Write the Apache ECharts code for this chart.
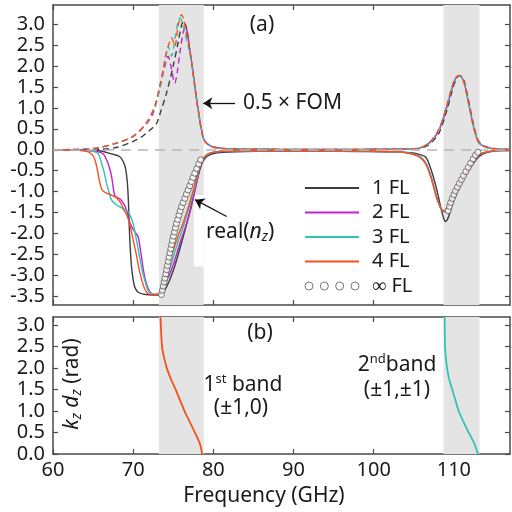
<!DOCTYPE html>
<html>
<head>
<meta charset="utf-8">
<script src="https://cdn.jsdelivr.net/npm/echarts@6/dist/echarts.min.js"></script>
<style>
  html, body { margin: 0; padding: 0; background: #fff; }
  #chart { width: 512px; height: 512px; }
</style>
</head>
<body>
<div id="chart"></div>
<script>
// tick labels
const xTicks = [60, 70, 80, 90, 100, 110]
const topYTicks = [-3.5, -3.0, -2.5, -2.0, -1.5, -1.0, -0.5, 0.0, 0.5, 1.0, 1.5, 2.0, 2.5, 3.0]
const bottomYTicks = [0.0, 0.5, 1.0, 1.5, 2.0, 2.5, 3.0]

// shaded band edges (GHz)
const bandEdges = [[73.2, 78.8], [108.7, 113.2]]

// real(n_z), first band part
const fl1Freq = [60, 64, 66, 67.3, 68.3, 68.76, 69.05, 69.26, 69.4, 69.5, 69.62, 69.8, 70.0, 70.21, 70.6, 71.25, 72.49, 73.0, 73.74, 74.2, 74.57, 75.0, 75.4, 76.23, 77.06, 77.89, 78.51, 79.0, 79.55, 80.5, 84, 90, 98, 103, 104.5, 105.5, 106.5, 107.2, 107.8, 108.4, 108.7, 108.95, 109.2, 109.5, 109.85, 110.7, 111.5, 112.3, 113.2, 114.8, 117]
const fl1Real = [0, -0.01, -0.03, -0.1, -0.16, -0.28, -0.45, -0.75, -1.2, -1.76, -2.3, -2.8, -3.1, -3.28, -3.39, -3.44, -3.46, -3.46, -3.4, -3.25, -3.1, -2.88, -2.64, -2.08, -1.48, -0.8, -0.36, -0.2, -0.12, -0.07, -0.04, -0.03, -0.04, -0.05, -0.07, -0.1, -0.18, -0.5, -0.9, -1.4, -1.62, -1.71, -1.66, -1.5, -1.28, -0.88, -0.6, -0.36, -0.15, -0.04, -0.02]

const fl2Freq = [60, 63, 65.5, 66.27, 66.68, 67.0, 67.31, 67.55, 67.72, 68.0, 68.34, 68.8, 69.17, 69.59, 70.0, 70.3, 70.63, 71.04, 71.35, 71.66, 72.0, 72.49, 73.0, 73.74, 74.1, 74.57, 75.2, 75.82, 76.65, 77.2, 77.68, 78.0, 78.31, 78.8, 79.4, 80.3, 82, 90]
const fl2Real = [0, -0.01, -0.04, -0.1, -0.24, -0.4, -0.64, -0.95, -1.1, -1.14, -1.17, -1.28, -1.44, -1.74, -1.9, -1.98, -2.08, -2.56, -2.95, -3.2, -3.36, -3.45, -3.45, -3.32, -3.15, -2.96, -2.62, -2.24, -1.76, -1.4, -1.0, -0.7, -0.42, -0.2, -0.1, -0.05, -0.03, -0.02]

const fl3Freq = [60, 63, 65.0, 65.65, 66.06, 66.4, 66.68, 67.0, 67.31, 67.8, 68.34, 68.9, 69.38, 69.7, 70.0, 70.42, 70.75, 71.04, 71.45, 71.87, 72.3, 72.7, 73.3, 73.95, 74.5, 74.99, 75.6, 76.23, 76.85, 77.48, 78.0, 78.31, 78.8, 79.4, 80.3, 82, 90]
const fl3Real = [0, -0.01, -0.04, -0.1, -0.32, -0.55, -0.8, -1.02, -1.2, -1.3, -1.36, -1.42, -1.48, -1.6, -1.76, -2.16, -2.5, -2.8, -3.12, -3.36, -3.43, -3.45, -3.42, -3.2, -2.88, -2.56, -2.2, -1.84, -1.45, -1.04, -0.65, -0.38, -0.2, -0.1, -0.05, -0.03, -0.02]

const fl4Freq = [60, 63, 64.2, 64.8, 65.2, 65.5, 65.8, 66.1, 66.6, 67.3, 67.9, 68.4, 68.8, 69.2, 69.6, 70.0, 70.4, 70.8, 71.3, 71.7, 72.3, 72.9, 73.4, 73.8, 74.3, 75.0, 75.6, 76.2, 76.9, 77.5, 78.0, 78.4, 78.8, 79.4, 80.3, 82, 90]
const fl4Real = [0, -0.01, -0.04, -0.1, -0.22, -0.45, -0.75, -0.95, -1.03, -1.08, -1.14, -1.25, -1.42, -1.55, -1.8, -2.15, -2.5, -2.9, -3.25, -3.4, -3.45, -3.45, -3.38, -3.12, -2.8, -2.4, -2.05, -1.76, -1.35, -0.96, -0.6, -0.34, -0.18, -0.09, -0.05, -0.03, -0.02]

// real(n_z), second band part (2, 3, 4 FL)
const realTailFreq = [98, 103, 104.5, 105.5, 106.1, 106.6, 107.0, 107.4, 107.8, 108.2, 108.5, 108.75, 109.0, 109.25, 109.85, 110.7, 111.5, 112.3, 113.2, 114.8, 117]
const fl2RealTail = [-0.03, -0.05, -0.08, -0.14, -0.22, -0.35, -0.55, -0.8, -1.1, -1.32, -1.44, -1.48, -1.45, -1.36, -1.12, -0.8, -0.56, -0.32, -0.12, -0.03, -0.01]
const fl3RealTail = [-0.03, -0.05, -0.08, -0.14, -0.23, -0.36, -0.56, -0.82, -1.1, -1.32, -1.43, -1.47, -1.44, -1.34, -1.1, -0.78, -0.54, -0.3, -0.11, -0.03, -0.01]
const fl4RealTail = [-0.03, -0.05, -0.09, -0.15, -0.24, -0.38, -0.58, -0.84, -1.12, -1.33, -1.43, -1.46, -1.42, -1.32, -1.08, -0.77, -0.53, -0.3, -0.11, -0.03, -0.01]

// infinite FL (circles)
const infFreq = [73.53, 73.64, 73.75, 73.86, 73.96, 74.07, 74.17, 74.28, 74.38, 74.48, 74.59, 74.69, 74.8, 74.9, 75.02, 75.15, 75.27, 75.4, 75.55, 75.71, 75.86, 76.02, 76.23, 76.44, 76.64, 76.85, 77.06, 77.27, 77.47, 77.68, 77.93, 78.18, 78.43,
  109.3, 109.45, 109.6, 109.8, 110.0, 110.2, 110.45, 110.7, 110.95, 111.2, 111.5, 111.8, 112.1, 112.4, 112.7, 113.0]
const infReal = [-3.45, -3.35, -3.25, -3.15, -3.06, -2.96, -2.86, -2.76, -2.66, -2.56, -2.46, -2.36, -2.26, -2.16, -2.06, -1.96, -1.86, -1.76, -1.66, -1.56, -1.46, -1.36, -1.26, -1.16, -1.06, -0.96, -0.86, -0.76, -0.66, -0.56, -0.45, -0.34, -0.24,
  -1.45, -1.35, -1.26, -1.16, -1.07, -0.98, -0.89, -0.8, -0.71, -0.62, -0.52, -0.42, -0.32, -0.22, -0.13, -0.06]

// 0.5 x FOM (dashed)
const fom1Freq = [60, 66, 68, 70.0, 71.0, 71.67, 72.3, 72.9, 73.5, 74.16, 74.98, 75.6, 76.0, 76.25, 76.5, 76.8, 77.06, 77.4, 77.68, 78.1, 78.51, 78.93, 79.96, 82.45, 90]
const fom1 = [0, 0.01, 0.06, 0.2, 0.3, 0.4, 0.5, 0.62, 0.95, 1.35, 1.99, 2.55, 2.94, 3.06, 3.0, 2.75, 2.38, 1.95, 1.52, 0.95, 0.48, 0.21, 0.07, 0.02, 0.01]
const fom2Freq = [60, 63, 65.44, 67.93, 70.0, 71.67, 72.49, 73.3, 73.95, 74.36, 74.7, 75.19, 75.5, 75.82, 76.23, 76.5, 76.8, 77.06, 77.4, 77.68, 78.1, 78.51, 78.93, 79.96, 82.45, 90]
const fom2 = [0, 0.01, 0.04, 0.16, 0.32, 0.62, 0.87, 1.45, 1.99, 2.23, 2.0, 1.59, 1.85, 2.31, 2.79, 2.94, 2.75, 2.39, 1.95, 1.55, 0.97, 0.5, 0.21, 0.07, 0.02, 0.01]
const fom3Freq = [60, 63, 65.44, 67.93, 70.0, 71.67, 72.7, 73.3, 73.95, 74.36, 74.78, 75.19, 75.6, 75.82, 76.1, 76.44, 77.06, 77.4, 77.68, 78.1, 78.51, 78.93, 79.96, 82.45, 90]
const fom3 = [0, 0.01, 0.04, 0.16, 0.32, 0.64, 1.03, 1.45, 2.07, 2.47, 2.23, 2.63, 3.06, 3.14, 3.05, 2.79, 2.3, 1.9, 1.5, 0.95, 0.48, 0.2, 0.06, 0.02, 0.01]
const fom4Freq = [60, 63, 65.44, 67.93, 70.0, 71.67, 72.7, 73.3, 73.74, 74.0, 74.36, 74.78, 75.19, 75.6, 76.03, 76.3, 76.6, 77.06, 77.4, 77.68, 78.1, 78.51, 78.93, 79.96, 82.45, 90]
const fom4 = [0, 0.01, 0.04, 0.16, 0.32, 0.65, 1.05, 1.52, 1.91, 2.2, 2.45, 2.67, 2.47, 2.94, 3.22, 3.1, 2.8, 2.39, 1.92, 1.51, 0.95, 0.48, 0.2, 0.06, 0.02, 0.01]

const fomTailFreq = [98, 104, 105.7, 106.5, 107.36, 108.2, 109.03, 109.85, 110.27, 110.68, 111.0, 111.31, 111.93, 112.55, 113.18, 114.42, 117]
const fom1Tail = [0.01, 0.02, 0.03, 0.08, 0.2, 0.42, 0.88, 1.45, 1.68, 1.77, 1.74, 1.62, 1.08, 0.52, 0.18, 0.05, 0.01]
const fom2Tail = [0.01, 0.02, 0.04, 0.1, 0.24, 0.48, 0.95, 1.51, 1.71, 1.77, 1.72, 1.59, 1.03, 0.48, 0.16, 0.04, 0.01]
const fom3Tail = [0.01, 0.02, 0.04, 0.11, 0.26, 0.52, 1.0, 1.55, 1.73, 1.77, 1.71, 1.57, 1.01, 0.47, 0.15, 0.04, 0.01]
const fom4Tail = [0.01, 0.02, 0.04, 0.11, 0.26, 0.52, 1.0, 1.55, 1.73, 1.77, 1.71, 1.57, 1.01, 0.47, 0.15, 0.04, 0.01]

// (b) dispersion k_z d_z
const band1Freq = [73.4, 73.45, 73.6, 73.85, 74.2, 74.7, 75.3, 75.85, 76.4, 77.05, 77.7, 78.3, 78.6]
const band1Kd = [3.19, 3.0, 2.5, 2.25, 2.0, 1.75, 1.5, 1.25, 1.0, 0.75, 0.5, 0.25, 0.0]
const band2Freq = [108.85, 108.86, 108.9, 109.0, 109.15, 109.4, 109.8, 110.2, 110.6, 111.2, 111.85, 112.53, 113.0]
const band2Kd = [3.19, 3.0, 2.5, 2.25, 2.0, 1.75, 1.5, 1.25, 1.0, 0.75, 0.5, 0.25, 0.0]

const FONT = 'Noto Sans'
const INK = '#1a1a1a'
const AXIS = '#4a4a4a'
const C1 = '#3d3d3d'
const C2 = '#c81ed2'
const C3 = '#2fc4b4'
const C4 = '#f4511e'

const pairs = (xs, ys) => xs.map((x, i) => [x, ys[i]])

const chart = echarts.init(document.getElementById('chart'))

const axisLine = { show: true, onZero: false, lineStyle: { color: AXIS, width: 1.5 } }
const tick = (vals) => ({ show: true, inside: true, length: 5, customValues: vals, lineStyle: { color: AXIS, width: 1.2 } })
const label = (vals, margin) => ({
  show: true, customValues: vals, margin, fontFamily: FONT, fontSize: 20, color: INK,
  formatter: (v) => vals === xTicks ? String(v) : v.toFixed(1)
})

const xAxisBase = (grid, pos, showLabel) => ({
  gridIndex: grid, type: 'value', min: 60, max: 117, position: pos,
  axisLine, axisTick: tick(xTicks),
  axisLabel: showLabel ? label(xTicks, 6) : { show: false },
  splitLine: { show: false }
})
const yAxisBase = (grid, pos, min, max, vals, showLabel) => ({
  gridIndex: grid, type: 'value', min, max, position: pos,
  axisLine, axisTick: tick(vals),
  axisLabel: showLabel ? label(vals, 8) : { show: false },
  splitLine: { show: false }
})

const lineSeries = (name, data, color, dashed) => ({
  name, type: 'line', xAxisIndex: 0, yAxisIndex: 0, data,
  symbol: 'none', smooth: 0.3, z: dashed ? 3 : 4,
  lineStyle: { color, width: 1.4, type: dashed ? [6, 4] : 'solid' },
  itemStyle: { color }
})

const bandArea = (extra) => ({
  silent: true, label: { show: false },
  itemStyle: { color: '#e4e4e4' },
  data: bandEdges.map(b => [{ xAxis: b[0] }, { xAxis: b[1] }]).concat(extra)
})

// legend entry for a plain line: hide the dot that line series put in the icon
const lineEntry = (name) => ({ name, itemStyle: { opacity: 0 } })

const rich = {
  i: { fontFamily: FONT, fontSize: 21, fontStyle: 'italic', color: INK, lineHeight: 24 },
  n: { fontFamily: FONT, fontSize: 21, color: INK, lineHeight: 24 },
  s: { fontFamily: FONT, fontSize: 14, fontStyle: 'italic', color: INK, lineHeight: 14, verticalAlign: 'bottom' },
  p: { fontFamily: FONT, fontSize: 13, color: INK, lineHeight: 13, verticalAlign: 'top' }
}
const txt = (x, y, text, align, extra) => Object.assign({
  type: 'text', x, y, z: 100,
  style: {
    text, rich, fontFamily: FONT, fontSize: 21, fill: INK, lineHeight: 24,
    align, textAlign: align, verticalAlign: 'middle', textVerticalAlign: 'middle'
  }
}, extra || {})

chart.setOption({
  animation: false,
  backgroundColor: '#fff',
  grid: [
    { left: 53, right: 2, top: 5, height: 300 },
    { left: 53, right: 2, top: 317, height: 137 }
  ],
  xAxis: [
    xAxisBase(0, 'bottom', false),
    xAxisBase(0, 'top', false),
    xAxisBase(1, 'bottom', true),
    xAxisBase(1, 'top', false)
  ],
  yAxis: [
    yAxisBase(0, 'left', -3.7, 3.45, topYTicks, true),
    yAxisBase(0, 'right', -3.7, 3.45, topYTicks, false),
    yAxisBase(1, 'left', 0, 3.19, bottomYTicks, true),
    yAxisBase(1, 'right', 0, 3.19, bottomYTicks, false)
  ],
  legend: {
    orient: 'vertical', left: 299, top: 173,
    itemWidth: 54, itemHeight: 8, itemGap: 4.5,
    selectedMode: false,
    textStyle: { fontFamily: FONT, fontSize: 20, color: INK, lineHeight: 20, padding: [0, 0, 0, 8] },
    data: [lineEntry('1 FL'), lineEntry('2 FL'), lineEntry('3 FL'), lineEntry('4 FL'), {
      name: '∞ FL',
      icon: 'path://M0,4A4,4,0,1,0,8,4A4,4,0,1,0,0,4Z M15.33,4A4,4,0,1,0,23.33,4A4,4,0,1,0,15.33,4Z M30.67,4A4,4,0,1,0,38.67,4A4,4,0,1,0,30.67,4Z M46,4A4,4,0,1,0,54,4A4,4,0,1,0,46,4Z',
      itemStyle: { color: '#fff', borderColor: '#555', borderWidth: 1 }
    }]
  },
  graphic: [
    txt(262, 25, '(a)', 'center', null),
    txt(243, 103, '0.5 × FOM', 'left', null),
    txt(206, 232, 'real({i|n}{s|z})', 'left', null),
    txt(260, 333, '(b)', 'center', null),
    txt(243, 385, '{n|1}{p|st}{n| band}', 'center', null),
    txt(241, 408, '(±1,0)', 'center', null),
    txt(397, 365, '{n|2}{p|nd}{n|band}', 'center', null),
    txt(397, 390, '(±1,±1)', 'center', null),
    txt(264, 496, 'Frequency (GHz)', 'center', null),
    txt(72, 384, '{i|k}{s|z}{i| d}{s|z}{n| (rad)}', 'center', { rotation: Math.PI / 2 })
  ],
  series: [
    {
      name: 'bands a', type: 'line', xAxisIndex: 0, yAxisIndex: 0, data: [], silent: true, z: 1,
      markArea: bandArea([[{ xAxis: 77.56, yAxis: -1.08, itemStyle: { color: '#fff' } }, { xAxis: 78.8, yAxis: -2.78 }]]),
      markLine: {
        silent: true, symbol: ['none', 'none'], label: { show: false },
        lineStyle: { color: '#b5b5b5', type: [10, 7], width: 1.5 },
        data: [{ yAxis: 0 }]
      }
    },
    lineSeries('FOM 1 FL', pairs(fom1Freq.concat(fomTailFreq), fom1.concat(fom1Tail)), C1, true),
    lineSeries('FOM 2 FL', pairs(fom2Freq.concat(fomTailFreq), fom2.concat(fom2Tail)), C2, true),
    lineSeries('FOM 3 FL', pairs(fom3Freq.concat(fomTailFreq), fom3.concat(fom3Tail)), C3, true),
    lineSeries('FOM 4 FL', pairs(fom4Freq.concat(fomTailFreq), fom4.concat(fom4Tail)), C4, true),
    lineSeries('1 FL', pairs(fl1Freq, fl1Real), C1, false),
    lineSeries('2 FL', pairs(fl2Freq.concat(realTailFreq), fl2Real.concat(fl2RealTail)), C2, false),
    lineSeries('3 FL', pairs(fl3Freq.concat(realTailFreq), fl3Real.concat(fl3RealTail)), C3, false),
    lineSeries('4 FL', pairs(fl4Freq.concat(realTailFreq), fl4Real.concat(fl4RealTail)), C4, false),
    {
      name: '∞ FL', type: 'scatter', xAxisIndex: 0, yAxisIndex: 0, z: 5,
      data: pairs(infFreq, infReal), symbol: 'circle', symbolSize: 6,
      itemStyle: { color: '#fff', borderColor: '#555', borderWidth: 1 }
    },
    {
      name: 'arrows', type: 'line', xAxisIndex: 0, yAxisIndex: 0, data: [], silent: true, z: 6,
      markLine: {
        silent: true, symbol: ['none', 'arrow'], symbolSize: 9, label: { show: false },
        lineStyle: { color: '#111', width: 1.3, type: 'solid' },
        data: [
          [{ coord: [82.7, 1.11] }, { coord: [78.74, 1.11] }],
          [{ coord: [81.66, -1.59] }, { coord: [77.71, -1.19] }]
        ]
      }
    },
    {
      name: 'bands b', type: 'line', xAxisIndex: 2, yAxisIndex: 2, data: [], silent: true, z: 1,
      markArea: bandArea([])
    },
    {
      name: '1st band', type: 'line', xAxisIndex: 2, yAxisIndex: 2, symbol: 'none', smooth: 0.3,
      data: pairs(band1Freq, band1Kd), lineStyle: { color: C4, width: 1.8 }
    },
    {
      name: '2nd band', type: 'line', xAxisIndex: 2, yAxisIndex: 2, symbol: 'none', smooth: 0.3,
      data: pairs(band2Freq, band2Kd), lineStyle: { color: C3, width: 1.8 }
    }
  ]
})
</script>
</body>
</html>
